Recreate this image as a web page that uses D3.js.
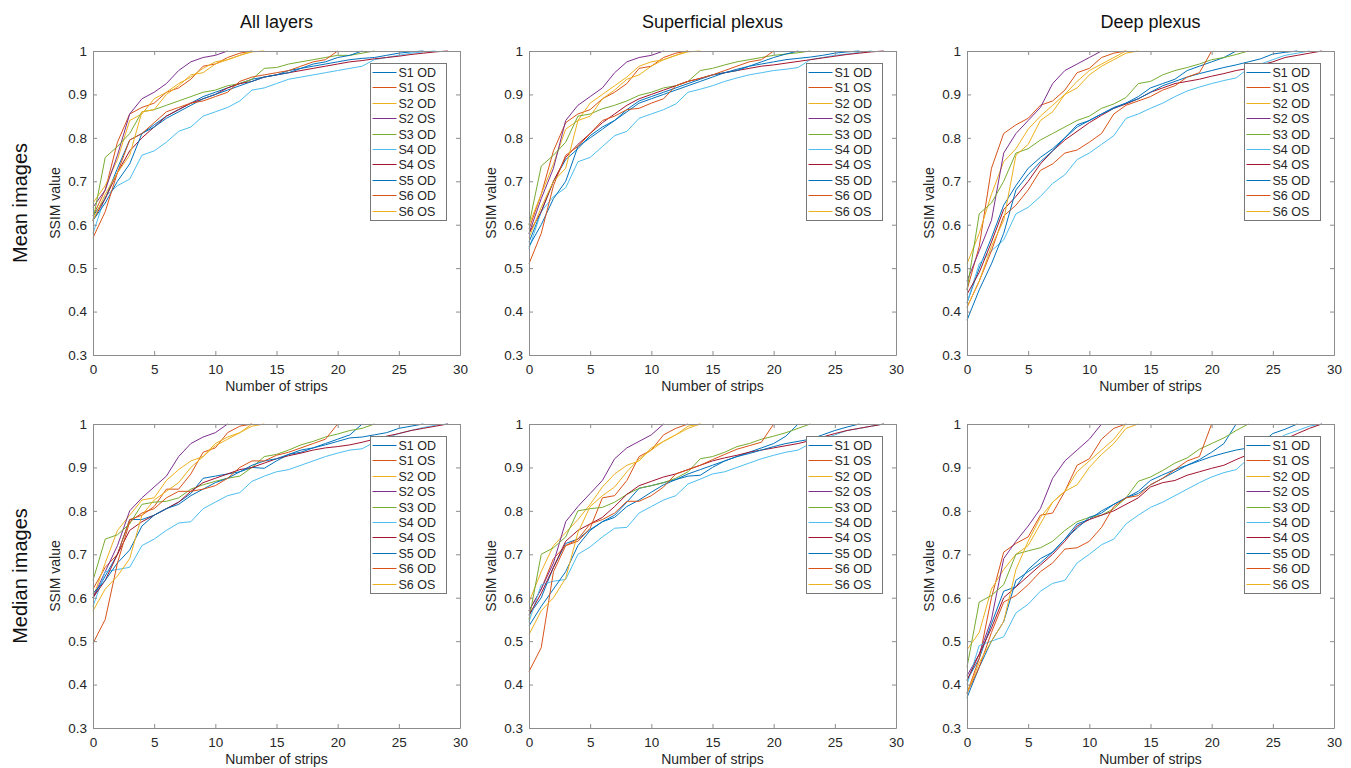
<!DOCTYPE html>
<html>
<head>
<meta charset="utf-8">
<script src="https://cdn.jsdelivr.net/npm/d3@7"></script>
<style>
  body { margin: 0; background: #fff; }
  text { font-family: "Liberation Sans", Arial, sans-serif; }
</style>
</head>
<body>
<div id="chart"></div>
<script>
// series names and MATLAB default line colours
const seriesNames = ["S1 OD", "S1 OS", "S2 OD", "S2 OS", "S3 OD", "S4 OD", "S4 OS", "S5 OD", "S6 OD", "S6 OS"];
const seriesColors = ["#0072BD", "#D95319", "#EDB120", "#7E2F8E", "#77AC30", "#4DBEEE", "#A2142F", "#0072BD", "#D95319", "#EDB120"];

const colTitles = ["All layers", "Superficial plexus", "Deep plexus"];
const rowTitles = ["Mean images", "Median images"];
const xTicks = [0, 5, 10, 15, 20, 25, 30];
const yTicks = [0.3, 0.4, 0.5, 0.6, 0.7, 0.8, 0.9, 1];

// SSIM value per number of strips (index = strips), one array per series
const meanAll = [
  [0.62,0.66,0.73,0.795,0.81,0.83,0.85,0.865,0.88,0.895,0.905,0.915,0.925,0.935,0.94,0.945,0.955,0.96,0.965,0.97,0.975,0.98,0.983,0.985,0.99,0.995,0.998,1],
  [0.62,0.68,0.79,0.855,0.87,0.88,0.905,0.915,0.935,0.965,0.97,0.985,0.995,1],
  [0.65,0.69,0.75,0.84,0.855,0.89,0.905,0.925,0.94,0.96,0.975,0.98,0.99,1],
  [0.64,0.68,0.76,0.855,0.89,0.905,0.925,0.955,0.975,0.985,0.99,1],
  [0.61,0.755,0.78,0.81,0.86,0.865,0.875,0.885,0.895,0.905,0.91,0.92,0.925,0.935,0.96,0.962,0.97,0.975,0.98,0.985,0.99,0.99,0.995,1],
  [0.58,0.665,0.69,0.705,0.76,0.77,0.79,0.815,0.825,0.85,0.86,0.87,0.885,0.91,0.915,0.925,0.935,0.94,0.945,0.95,0.955,0.96,0.965,0.98,0.985,0.99,0.995,0.998,1],
  [0.61,0.66,0.72,0.77,0.8,0.825,0.85,0.865,0.88,0.89,0.9,0.915,0.925,0.93,0.94,0.945,0.95,0.955,0.96,0.965,0.97,0.975,0.978,0.982,0.985,0.988,0.992,0.995,0.998,1],
  [0.61,0.65,0.7,0.74,0.81,0.825,0.845,0.86,0.875,0.89,0.9,0.91,0.92,0.93,0.94,0.945,0.95,0.96,0.97,0.975,0.985,0.99,1],
  [0.57,0.63,0.72,0.795,0.81,0.835,0.86,0.87,0.88,0.885,0.895,0.905,0.93,0.94,0.945,0.95,0.955,0.965,0.975,0.98,1],
  [0.61,0.67,0.72,0.76,0.86,0.865,0.9,0.92,0.945,0.95,0.97,0.98,0.99,0.998,1]
];
const meanSuperficial = [
  [0.56,0.63,0.7,0.75,0.775,0.805,0.825,0.84,0.86,0.88,0.89,0.9,0.91,0.92,0.93,0.94,0.95,0.958,0.965,0.97,0.975,0.98,0.983,0.986,0.99,0.995,0.998,1],
  [0.59,0.67,0.77,0.835,0.855,0.865,0.89,0.905,0.925,0.96,0.965,0.985,0.995,1],
  [0.6,0.67,0.74,0.82,0.84,0.88,0.9,0.92,0.94,0.965,0.975,0.98,0.99,1],
  [0.58,0.66,0.73,0.84,0.875,0.895,0.915,0.95,0.975,0.985,0.99,1],
  [0.6,0.735,0.76,0.79,0.85,0.855,0.867,0.875,0.885,0.898,0.905,0.915,0.92,0.93,0.955,0.96,0.968,0.975,0.98,0.985,0.99,0.993,0.996,1],
  [0.545,0.63,0.665,0.685,0.745,0.755,0.78,0.805,0.815,0.845,0.855,0.865,0.878,0.905,0.912,0.92,0.93,0.938,0.945,0.95,0.955,0.958,0.962,0.98,0.985,0.99,0.993,0.997,1],
  [0.58,0.63,0.7,0.755,0.785,0.81,0.835,0.855,0.875,0.89,0.9,0.91,0.92,0.93,0.937,0.945,0.95,0.955,0.96,0.965,0.968,0.972,0.976,0.98,0.984,0.988,0.992,0.995,0.998,1],
  [0.55,0.6,0.66,0.7,0.78,0.8,0.82,0.84,0.865,0.885,0.895,0.905,0.915,0.925,0.935,0.945,0.95,0.955,0.965,0.975,0.985,0.993,1],
  [0.51,0.58,0.69,0.76,0.78,0.81,0.84,0.85,0.865,0.868,0.88,0.89,0.92,0.93,0.937,0.945,0.955,0.965,0.975,0.98,1],
  [0.57,0.64,0.7,0.73,0.84,0.85,0.89,0.91,0.935,0.945,0.965,0.98,0.99,0.998,1]
];
const meanDeep = [
  [0.42,0.5,0.57,0.645,0.69,0.73,0.755,0.775,0.8,0.83,0.84,0.855,0.87,0.88,0.895,0.915,0.925,0.935,0.955,0.965,0.975,0.985,1],
  [0.45,0.55,0.73,0.81,0.83,0.845,0.875,0.885,0.91,0.95,0.96,0.985,0.995,1],
  [0.51,0.58,0.67,0.745,0.775,0.82,0.85,0.875,0.9,0.93,0.955,0.97,0.985,1],
  [0.47,0.54,0.61,0.765,0.81,0.84,0.87,0.925,0.955,0.97,0.985,1],
  [0.45,0.625,0.65,0.7,0.765,0.775,0.795,0.81,0.825,0.84,0.85,0.868,0.878,0.893,0.925,0.93,0.945,0.955,0.962,0.97,0.98,0.985,0.992,1],
  [0.42,0.51,0.54,0.565,0.625,0.64,0.665,0.695,0.715,0.75,0.765,0.785,0.805,0.845,0.855,0.868,0.88,0.895,0.908,0.917,0.925,0.932,0.938,0.96,0.97,0.98,0.99,0.995,1],
  [0.44,0.49,0.56,0.635,0.665,0.7,0.74,0.77,0.795,0.815,0.835,0.852,0.868,0.878,0.89,0.905,0.915,0.925,0.93,0.935,0.942,0.948,0.955,0.96,0.968,0.975,0.985,0.99,0.995,1],
  [0.38,0.45,0.51,0.58,0.68,0.715,0.745,0.77,0.8,0.825,0.84,0.855,0.868,0.88,0.89,0.905,0.92,0.93,0.94,0.948,0.955,0.962,0.968,0.975,0.982,0.993,0.997,1],
  [0.41,0.47,0.54,0.62,0.645,0.68,0.725,0.74,0.765,0.772,0.79,0.81,0.855,0.875,0.885,0.895,0.91,0.92,0.94,0.95,1],
  [0.41,0.47,0.55,0.61,0.76,0.785,0.84,0.86,0.9,0.915,0.945,0.965,0.98,0.995,1]
];
const medianAll = [
  [0.6,0.65,0.7,0.78,0.78,0.79,0.805,0.82,0.84,0.875,0.88,0.885,0.89,0.9,0.898,0.915,0.93,0.935,0.945,0.955,0.965,0.975,1],
  [0.62,0.67,0.7,0.78,0.79,0.81,0.85,0.85,0.885,0.935,0.945,0.98,0.995,1],
  [0.6,0.68,0.755,0.79,0.825,0.83,0.87,0.895,0.915,0.925,0.95,0.965,0.98,0.995,1],
  [0.6,0.66,0.72,0.8,0.83,0.855,0.88,0.925,0.955,0.97,0.98,1],
  [0.64,0.735,0.745,0.77,0.815,0.82,0.822,0.83,0.85,0.86,0.868,0.875,0.88,0.9,0.925,0.93,0.94,0.952,0.96,0.97,0.977,0.985,0.99,1],
  [0.58,0.66,0.665,0.67,0.72,0.735,0.755,0.772,0.775,0.805,0.82,0.835,0.842,0.868,0.88,0.89,0.895,0.905,0.915,0.925,0.933,0.94,0.943,0.958,0.968,0.978,0.985,0.992,0.997,1],
  [0.6,0.64,0.7,0.755,0.775,0.79,0.805,0.82,0.845,0.865,0.875,0.885,0.895,0.9,0.91,0.92,0.927,0.933,0.94,0.945,0.948,0.952,0.958,0.965,0.972,0.978,0.985,0.99,0.995,1],
  [0.61,0.64,0.68,0.71,0.765,0.79,0.805,0.815,0.835,0.85,0.865,0.875,0.89,0.905,0.915,0.92,0.93,0.94,0.945,0.952,0.96,0.968,0.97,0.975,0.98,0.99,0.995,1],
  [0.495,0.55,0.68,0.775,0.795,0.805,0.83,0.845,0.845,0.85,0.858,0.875,0.9,0.915,0.915,0.928,0.935,0.945,0.955,0.965,1],
  [0.57,0.62,0.65,0.69,0.79,0.825,0.845,0.865,0.9,0.925,0.955,0.97,0.98,1]
];
const medianSuperficial = [
  [0.56,0.6,0.67,0.725,0.735,0.757,0.775,0.79,0.82,0.852,0.858,0.865,0.872,0.88,0.882,0.9,0.915,0.925,0.935,0.945,0.955,0.972,1],
  [0.57,0.62,0.69,0.72,0.73,0.76,0.83,0.835,0.87,0.925,0.94,0.975,0.99,1],
  [0.59,0.66,0.72,0.75,0.78,0.815,0.855,0.885,0.905,0.915,0.945,0.96,0.975,0.995,1],
  [0.57,0.62,0.68,0.775,0.81,0.84,0.87,0.92,0.945,0.96,0.975,1],
  [0.55,0.7,0.715,0.74,0.8,0.805,0.808,0.82,0.838,0.852,0.858,0.865,0.875,0.89,0.92,0.925,0.935,0.948,0.955,0.965,0.972,0.98,0.99,1],
  [0.545,0.63,0.638,0.642,0.7,0.717,0.74,0.76,0.762,0.795,0.81,0.825,0.835,0.862,0.873,0.885,0.89,0.9,0.91,0.92,0.928,0.935,0.94,0.955,0.965,0.975,0.985,0.99,0.995,1],
  [0.56,0.61,0.67,0.73,0.755,0.77,0.785,0.81,0.838,0.858,0.868,0.878,0.885,0.895,0.905,0.915,0.922,0.928,0.935,0.94,0.945,0.95,0.955,0.962,0.97,0.978,0.985,0.99,0.995,1],
  [0.535,0.58,0.62,0.66,0.72,0.755,0.775,0.785,0.81,0.825,0.843,0.86,0.872,0.885,0.895,0.905,0.915,0.925,0.932,0.94,0.948,0.955,0.96,0.965,0.975,0.985,0.993,1],
  [0.43,0.485,0.66,0.72,0.735,0.77,0.78,0.795,0.822,0.822,0.835,0.855,0.885,0.895,0.905,0.918,0.93,0.942,0.95,0.958,1],
  [0.515,0.57,0.6,0.645,0.75,0.81,0.835,0.855,0.89,0.92,0.94,0.96,0.975,0.99,1]
];
const medianDeep = [
  [0.41,0.46,0.54,0.615,0.625,0.665,0.69,0.705,0.735,0.77,0.78,0.8,0.815,0.83,0.84,0.86,0.875,0.89,0.905,0.918,0.935,0.955,1],
  [0.38,0.46,0.6,0.705,0.725,0.74,0.79,0.795,0.845,0.905,0.92,0.965,0.99,1],
  [0.48,0.52,0.62,0.665,0.7,0.72,0.77,0.82,0.845,0.86,0.9,0.93,0.955,0.99,1],
  [0.42,0.47,0.55,0.69,0.73,0.765,0.805,0.875,0.915,0.94,0.965,1],
  [0.44,0.59,0.605,0.63,0.7,0.708,0.715,0.73,0.755,0.775,0.785,0.79,0.805,0.83,0.868,0.878,0.893,0.91,0.922,0.942,0.955,0.968,0.985,1],
  [0.4,0.49,0.5,0.51,0.565,0.585,0.615,0.633,0.64,0.68,0.7,0.722,0.735,0.77,0.79,0.808,0.82,0.835,0.85,0.865,0.878,0.888,0.895,0.92,0.94,0.96,0.975,0.985,0.995,1],
  [0.41,0.47,0.53,0.6,0.625,0.65,0.675,0.7,0.73,0.765,0.78,0.79,0.8,0.815,0.83,0.855,0.865,0.87,0.882,0.89,0.898,0.905,0.918,0.93,0.945,0.955,0.965,0.978,0.99,1],
  [0.37,0.44,0.5,0.545,0.64,0.66,0.68,0.705,0.735,0.76,0.785,0.795,0.815,0.83,0.845,0.87,0.883,0.895,0.905,0.915,0.925,0.933,0.94,0.945,0.955,0.978,0.988,1],
  [0.38,0.44,0.52,0.59,0.605,0.63,0.66,0.68,0.712,0.715,0.73,0.762,0.81,0.83,0.835,0.86,0.875,0.895,0.915,0.925,1],
  [0.38,0.45,0.5,0.545,0.665,0.73,0.785,0.82,0.845,0.89,0.915,0.94,0.965,1]
];

const panels = [
  [meanAll, meanSuperficial, meanDeep],
  [medianAll, medianSuperficial, medianDeep]
];

const WIDTH = 1351, HEIGHT = 768;
const PLOT_W = 367, PLOT_H = 304;
const colLeft = [93, 529, 967];
const rowTop = [51, 424];
const AXIS_COLOR = "#8c8c8c", TEXT_COLOR = "#262626";

const svg = d3.select("#chart")
  .append("svg")
  .attr("width", WIDTH)
  .attr("height", HEIGHT);

const x = d3.scaleLinear().domain([0, 30]).range([0, PLOT_W]);
const y = d3.scaleLinear().domain([0.3, 1]).range([PLOT_H, 0]);

const line = d3.line()
  .x((d, i) => x(i))
  .y(d => y(d));

// column titles
colTitles.forEach((t, c) => {
  svg.append("text")
    .attr("x", colLeft[c] + PLOT_W / 2)
    .attr("y", 28)
    .attr("text-anchor", "middle")
    .attr("font-size", 18)
    .attr("fill", "#111")
    .text(t);
});

// row titles
rowTitles.forEach((t, r) => {
  svg.append("text")
    .attr("transform", `translate(27,${rowTop[r] + PLOT_H / 2}) rotate(-90)`)
    .attr("text-anchor", "middle")
    .attr("font-size", 20)
    .attr("fill", "#111")
    .text(t);
});

panels.forEach((row, r) => {
  row.forEach((data, c) => {
    const g = svg.append("g")
      .attr("transform", `translate(${colLeft[c]},${rowTop[r]})`);

    // lines
    g.selectAll("path.series")
      .data(data)
      .enter()
      .append("path")
        .attr("class", "series")
        .attr("d", d => line(d))
        .attr("fill", "none")
        .attr("stroke", (d, i) => seriesColors[i])
        .attr("stroke-width", 1);

    // axes, ticks pointing inwards on all four sides
    const bottom = g.append("g")
      .attr("transform", `translate(0,${PLOT_H})`)
      .call(d3.axisBottom(x).tickValues(xTicks).tickSize(-4).tickSizeOuter(0).tickPadding(9));
    const left = g.append("g")
      .call(d3.axisLeft(y).tickValues(yTicks).tickFormat(d3.format("~g")).tickSize(-4).tickSizeOuter(0).tickPadding(6));
    const top = g.append("g")
      .call(d3.axisTop(x).tickValues(xTicks).tickSize(-4).tickSizeOuter(0).tickFormat(""));
    const right = g.append("g")
      .attr("transform", `translate(${PLOT_W},0)`)
      .call(d3.axisRight(y).tickValues(yTicks).tickSize(-4).tickSizeOuter(0).tickFormat(""));

    [bottom, left, top, right].forEach(a => {
      a.selectAll("path, line").attr("stroke", AXIS_COLOR);
      a.selectAll("text")
        .attr("fill", TEXT_COLOR)
        .attr("font-size", 13.5)
        .attr("font-family", "'Liberation Sans', Arial, sans-serif");
    });

    // axis labels
    g.append("text")
      .attr("x", PLOT_W / 2)
      .attr("y", PLOT_H + 36)
      .attr("text-anchor", "middle")
      .attr("font-size", 14)
      .attr("fill", TEXT_COLOR)
      .text("Number of strips");
    g.append("text")
      .attr("transform", `translate(-33,${PLOT_H / 2}) rotate(-90)`)
      .attr("text-anchor", "middle")
      .attr("font-size", 14)
      .attr("fill", TEXT_COLOR)
      .text("SSIM value");

    // legend box (snapped to half pixels so the samples stay crisp)
    const lg = g.append("g")
      .attr("transform", `translate(${PLOT_W - 89.5},12.5)`);
    lg.append("rect")
      .attr("width", 76)
      .attr("height", 157)
      .attr("fill", "#fff")
      .attr("stroke", "#777")
      .attr("stroke-width", 1);
    const item = lg.selectAll("g.item")
      .data(seriesNames)
      .enter()
      .append("g")
        .attr("class", "item")
        .attr("transform", (d, i) => `translate(0,${Math.round(9 + i * 15.4)})`);
    item.append("line")
      .attr("x1", 2).attr("x2", 26)
      .attr("stroke", (d, i) => seriesColors[i])
      .attr("stroke-width", 1);
    item.append("text")
      .attr("x", 28)
      .attr("dy", "0.35em")
      .attr("font-size", 12.5)
      .attr("fill", TEXT_COLOR)
      .text(d => d);
  });
});
</script>
</body>
</html>
